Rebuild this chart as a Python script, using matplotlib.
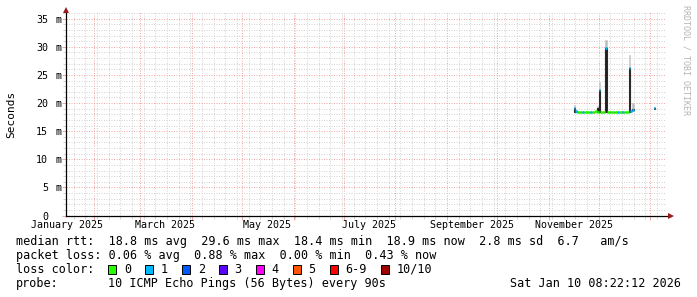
import matplotlib
matplotlib.use("Agg")
import matplotlib.pyplot as plt
import matplotlib.dates as mdates
from matplotlib.ticker import MultipleLocator
from matplotlib.patches import Rectangle
import numpy as np

# ---------------- data ----------------
sample_dates = [
    "2025-11-16", "2025-11-17", "2025-11-18", "2025-11-19", "2025-11-20",
    "2025-11-21", "2025-11-22", "2025-11-23", "2025-11-24", "2025-11-25",
    "2025-11-26", "2025-11-27", "2025-11-28", "2025-11-29", "2025-11-30",
    "2025-12-01", "2025-12-02", "2025-12-03", "2025-12-04", "2025-12-05",
    "2025-12-06", "2025-12-07", "2025-12-08", "2025-12-09", "2025-12-10",
    "2025-12-11", "2025-12-12", "2025-12-13", "2025-12-14", "2025-12-15",
    "2025-12-16", "2025-12-17", "2025-12-18", "2025-12-19", "2025-12-20",
    "2025-12-21", "2026-01-03",
]
median_ms = [
    19.1, 18.6, 18.5, 18.5, 18.4, 18.5, 18.5, 18.4, 18.5, 18.5,
    18.5, 18.4, 18.5, 18.6, 18.5, 22.3, 18.5, 18.5, 18.4, 29.8,
    18.5, 18.5, 18.4, 18.5, 18.5, 18.5, 18.5, 18.4, 18.5, 18.5,
    18.5, 18.5, 18.5, 26.2, 18.6, 18.7, 19.1,
]
loss_code = [
    1, 1, 0, 0, 0, 1, 0, 0, 0, 0, 1, 0, 0, 0, 0,
    1, 0, 0, 0, 1, 0, 0, 0, 0, 0, 0, 1, 0, 0, 1,
    0, 0, 0, 1, 1, 1, 1,
]
smoke_low_ms = [
    18.5, 18.5, 18.5, 18.5, 18.4, 18.5, 18.5, 18.4, 18.5, 18.5,
    18.5, 18.4, 18.5, 18.6, 18.5, 18.4, 18.5, 18.5, 18.4, 18.4,
    18.5, 18.5, 18.4, 18.5, 18.5, 18.5, 18.5, 18.4, 18.5, 18.5,
    18.5, 18.5, 18.5, 18.4, 18.6, 18.7, 19.0,
]
smoke_core_ms = [
    19.2, 18.6, 18.5, 18.5, 18.4, 18.5, 18.5, 18.4, 18.5, 18.5,
    18.5, 18.4, 18.5, 18.6, 19.2, 22.3, 18.5, 18.5, 18.4, 29.8,
    18.5, 18.5, 18.4, 18.5, 18.5, 18.5, 18.5, 18.4, 18.5, 18.5,
    18.5, 18.5, 18.5, 26.2, 18.6, 18.9, 19.2,
]
smoke_high_ms = [
    19.6, 18.6, 18.5, 18.5, 18.4, 18.5, 18.5, 18.4, 18.5, 18.5,
    18.5, 18.4, 18.5, 18.6, 19.4, 23.8, 18.5, 18.5, 18.4, 31.3,
    18.5, 18.5, 18.4, 18.5, 18.5, 18.5, 18.5, 18.4, 18.5, 18.5,
    18.5, 18.5, 18.5, 28.6, 18.6, 20.0, 19.3,
]

y_ticks = [0, 5, 10, 15, 20, 25, 30, 35]
y_tick_units = ["", "m", "m", "m", "m", "m", "m", "m"]
month_labels = ["January 2025", "March 2025", "May 2025", "July 2025",
                "September 2025", "November 2025"]
month_label_dates = ["2025-01-16", "2025-03-16", "2025-05-16", "2025-07-16",
                     "2025-09-16", "2025-11-16"]
range_start = "2025-01-15T08:22:12"
range_end = "2026-01-10T08:22:12"
y_max = 36.2

loss_labels = ["0", "1", "2", "3", "4", "5", "6-9", "10/10"]
loss_colors = ["#26ff00", "#00b8ff", "#0059ff", "#5e00ff", "#ff00ff",
               "#ff5500", "#ff0000", "#a10000"]

rtt_line = "median rtt:  18.8 ms avg  29.6 ms max  18.4 ms min  18.9 ms now  2.8 ms sd  6.7   am/s"
loss_line = "packet loss: 0.06 % avg  0.88 % max  0.00 % min  0.43 % now"
probe_text = "10 ICMP Echo Pings (56 Bytes) every 90s"
stamp_text = "Sat Jan 10 08:22:12 2026"

# ---------------- style ----------------
W, H, DPI = 697, 297, 100
MONO = "DejaVu Sans Mono"
plt.rcParams["font.family"] = [MONO]
GRID = "#d4d4d4"
MGRID = "#f2a8a8"
ARROW = "#9b1c1c"

fig = plt.figure(figsize=(W / DPI, H / DPI), dpi=DPI, facecolor="white")
L, R, T, B = 66, 666, 12, 215.5
ax = fig.add_axes([L / W, (H - B) / H, (R - L) / W, (B - T) / H])
ax.set_facecolor("white")
for s in ax.spines.values():
    s.set_visible(False)

x = mdates.date2num(np.array(sample_dates, dtype="datetime64[s]"))
x0 = mdates.date2num(np.datetime64(range_start))
x1 = mdates.date2num(np.datetime64(range_end))
ax.set_xlim(x0, x1)
ax.set_ylim(0, y_max)

ax.xaxis.set_major_locator(mdates.MonthLocator())
ax.xaxis.set_minor_locator(mdates.WeekdayLocator(byweekday=mdates.MO))
ax.yaxis.set_major_locator(MultipleLocator(5))
ax.yaxis.set_minor_locator(MultipleLocator(1))
ax.tick_params(labelbottom=False, labelleft=False)
ax.tick_params(which="major", length=3, width=0.72, color=MGRID, direction="out")
ax.tick_params(which="minor", length=2, width=0.72, color=GRID, direction="out")
ax.grid(which="minor", color=GRID, linestyle=(0, (1, 1.5)), linewidth=0.72, zorder=0)
ax.grid(which="major", color=MGRID, linestyle=(0, (1, 1.5)), linewidth=0.72, zorder=0)
ax.set_axisbelow(True)

# smoke
lo = np.array(smoke_low_ms)
ax.bar(x, np.array(smoke_high_ms) - lo, bottom=lo, width=1.0, align="edge",
       color="#b8b8b8", edgecolor="#c8c8c8", linewidth=0.4, zorder=2)
ax.bar(x, np.array(smoke_core_ms) - lo, bottom=lo, width=1.0, align="edge",
       color="#1e1e1e", edgecolor="#2a2a2a", linewidth=0.8, zorder=3)

# median line coloured by loss
cols = [loss_colors[c] for c in loss_code]
ax.hlines(median_ms, x, x + 1.0, colors=cols, linewidth=2.0, zorder=4,
          capstyle="butt")

# axes lines with arrows
xa_end = (671 - L) / (R - L)
ya_end = (B - 10) / (B - T)
ax.plot([0, xa_end], [0, 0], color="black", lw=0.9, transform=ax.transAxes,
        clip_on=False, zorder=6)
ax.plot([0, 0], [0, ya_end], color="black", lw=0.9, transform=ax.transAxes,
        clip_on=False, zorder=6)
ax.plot([xa_end], [0], marker=">", ms=4, color=ARROW, transform=ax.transAxes,
        clip_on=False, zorder=7, markeredgewidth=0)
ax.plot([0], [ya_end], marker="^", ms=4, color=ARROW, transform=ax.transAxes,
        clip_on=False, zorder=7, markeredgewidth=0)

# y labels
for v, u in zip(y_ticks, y_tick_units):
    ax.annotate(str(v), xy=(0, v), xycoords=("axes fraction", "data"),
                xytext=(-18, 0), textcoords="offset pixels", ha="right",
                va="center_baseline", fontsize=7.2, family=MONO)
    if u:
        ax.annotate(u, xy=(0, v), xycoords=("axes fraction", "data"),
                    xytext=(-11, 0), textcoords="offset pixels", ha="left",
                    va="center_baseline", fontsize=7.2, family=MONO)

# x labels (centered within month)
for lab, d in zip(month_labels, month_label_dates):
    ax.annotate(lab, xy=(mdates.date2num(np.datetime64(d)), 0),
                xycoords=("data", "axes fraction"), xytext=(0, -12.5),
                textcoords="offset pixels", ha="center", va="baseline",
                fontsize=7.2, family=MONO, annotation_clip=False)

# axis title and watermark
fig.text(11 / W, 1 - 114 / H, "Seconds", rotation=90, ha="center", va="center",
         fontsize=8, family=MONO)
fig.text(686 / W, 1 - 60 / H, "RRDTOOL / TOBI OETIKER", rotation=-90,
         ha="center", va="center", fontsize=6, family=MONO, color="#b4b4b4")

# legend
FS = 8.5
CW = 7.1


def ftext(px, py, s, **kw):
    fig.text(px / W, 1 - py / H, s, fontsize=FS, family=MONO, va="baseline", **kw)


rows = [245, 259, 273, 287]
ftext(16, rows[0], rtt_line)
ftext(16, rows[1], loss_line)

ftext(16, rows[2], "loss color:")
col = 13.0
for lab, c in zip(loss_labels, loss_colors):
    bx = 16 + col * CW
    fig.patches.append(Rectangle((bx / W, 1 - (rows[2] + 0.5) / H), 8 / W, 8.5 / H,
                                 transform=fig.transFigure, facecolor=c,
                                 edgecolor="black", linewidth=0.7))
    ftext(bx + 15.6, rows[2], lab)
    col += 2.2 + len(lab) + 2

ftext(16, rows[3], "probe:")
ftext(16 + 13 * CW, rows[3], probe_text)
ftext(681, rows[3], stamp_text, ha="right")

fig.savefig("out.png", dpi=DPI, facecolor="white")
